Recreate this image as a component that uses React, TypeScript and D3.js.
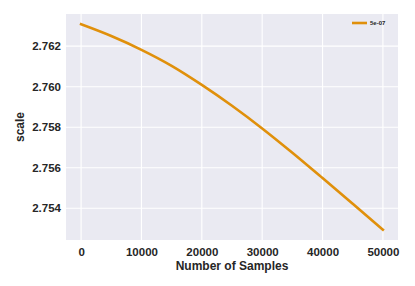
import { useEffect, useRef } from 'react';
import * as d3 from 'd3';

// samples seen vs. fitted scale
const sampleCounts = [0, 5000, 10000, 15000, 20000, 25000, 30000, 35000, 40000, 45000, 50000];
const scaleValues = [
  2.76308, 2.7625, 2.76182, 2.76103, 2.76009, 2.75906, 2.75794, 2.75674, 2.75549, 2.75422, 2.75294,
];
const seriesName = '5e-07';
const xTicks = [0, 10000, 20000, 30000, 40000, 50000];
const yTicks = [2.754, 2.756, 2.758, 2.76, 2.762];

const App = () => {
  const svgRef = useRef<SVGSVGElement>(null);

  useEffect(() => {
    if (!svgRef.current) return;
    const root = d3.select(svgRef.current);
    root.selectAll('*').remove();

    const width = 415;
    const height = 286;
    const margin = { top: 14, right: 17, bottom: 46, left: 66 };
    const innerWidth = width - margin.left - margin.right;
    const innerHeight = height - margin.top - margin.bottom;

    const font = "'Liberation Sans', Arial, sans-serif";

    const g = root.append('g').attr('transform', `translate(${margin.left},${margin.top})`);

    // matplotlib style 5% padding
    const xExt = d3.extent(sampleCounts) as [number, number];
    const yExt = d3.extent(scaleValues) as [number, number];
    const xPad = (xExt[1] - xExt[0]) * 0.05;
    const yPad = (yExt[1] - yExt[0]) * 0.05;

    const xScale = d3.scaleLinear().domain([xExt[0] - xPad, xExt[1] + xPad]).range([0, innerWidth]);
    const yScale = d3.scaleLinear().domain([yExt[0] - yPad, yExt[1] + yPad]).range([innerHeight, 0]);

    // 背景
    g.append('rect')
      .attr('width', innerWidth)
      .attr('height', innerHeight)
      .attr('fill', '#eaeaf2');

    // 网格线
    g.selectAll('.vgrid')
      .data(xTicks)
      .join('line')
      .attr('x1', (d) => xScale(d))
      .attr('x2', (d) => xScale(d))
      .attr('y1', 0)
      .attr('y2', innerHeight)
      .attr('stroke', '#fff')
      .attr('stroke-width', 1.1);

    g.selectAll('.hgrid')
      .data(yTicks)
      .join('line')
      .attr('x1', 0)
      .attr('x2', innerWidth)
      .attr('y1', (d) => yScale(d))
      .attr('y2', (d) => yScale(d))
      .attr('stroke', '#fff')
      .attr('stroke-width', 1.1);

    // 坐标轴
    const xAxis = g
      .append('g')
      .attr('transform', `translate(0,${innerHeight})`)
      .call(d3.axisBottom(xScale).tickValues(xTicks).tickFormat(d3.format('d')).tickSize(0).tickPadding(8));
    const yAxis = g
      .append('g')
      .call(d3.axisLeft(yScale).tickValues(yTicks).tickFormat(d3.format('.3f')).tickSize(0).tickPadding(5));

    [xAxis, yAxis].forEach((axis) => {
      axis.select('.domain').remove();
      axis
        .selectAll('text')
        .attr('fill', '#262626')
        .style('font-family', font)
        .style('font-weight', 'bold')
        .style('font-size', '11.5px');
    });

    // 曲线
    const line = d3
      .line<number>()
      .x((_, i) => xScale(sampleCounts[i]))
      .y((d) => yScale(d))
      .curve(d3.curveMonotoneX);

    g.append('path')
      .datum(scaleValues)
      .attr('fill', 'none')
      .attr('stroke', '#e0900b')
      .attr('stroke-width', 2.6)
      .attr('stroke-linecap', 'square')
      .attr('d', line);

    // 轴标题
    root
      .append('text')
      .attr('x', margin.left + innerWidth / 2)
      .attr('y', 269.5)
      .attr('text-anchor', 'middle')
      .attr('fill', '#262626')
      .style('font-family', font)
      .style('font-weight', 'bold')
      .style('font-size', '12px')
      .text('Number of Samples');

    root
      .append('text')
      .attr('transform', `translate(24,${margin.top + innerHeight / 2}) rotate(-90)`)
      .attr('text-anchor', 'middle')
      .attr('fill', '#262626')
      .style('font-family', font)
      .style('font-weight', 'bold')
      .style('font-size', '12px')
      .text('scale');

    // 图例
    const legend = g.append('g').attr('transform', `translate(${innerWidth - 46},9)`);
    legend
      .append('line')
      .attr('x1', 0)
      .attr('x2', 15)
      .attr('y1', 0)
      .attr('y2', 0)
      .attr('stroke', '#e0900b')
      .attr('stroke-width', 2.6);
    legend
      .append('text')
      .attr('x', 18)
      .attr('y', 2)
      .attr('fill', '#262626')
      .style('font-family', font)
      .style('font-weight', 'bold')
      .style('font-size', '6px')
      .text(seriesName);
  }, []);

  return (
    <svg
      ref={svgRef}
      width={415}
      height={286}
      style={{ display: 'block', position: 'absolute', left: 0, top: 0, background: '#fff' }}
    />
  );
};

export default App;
